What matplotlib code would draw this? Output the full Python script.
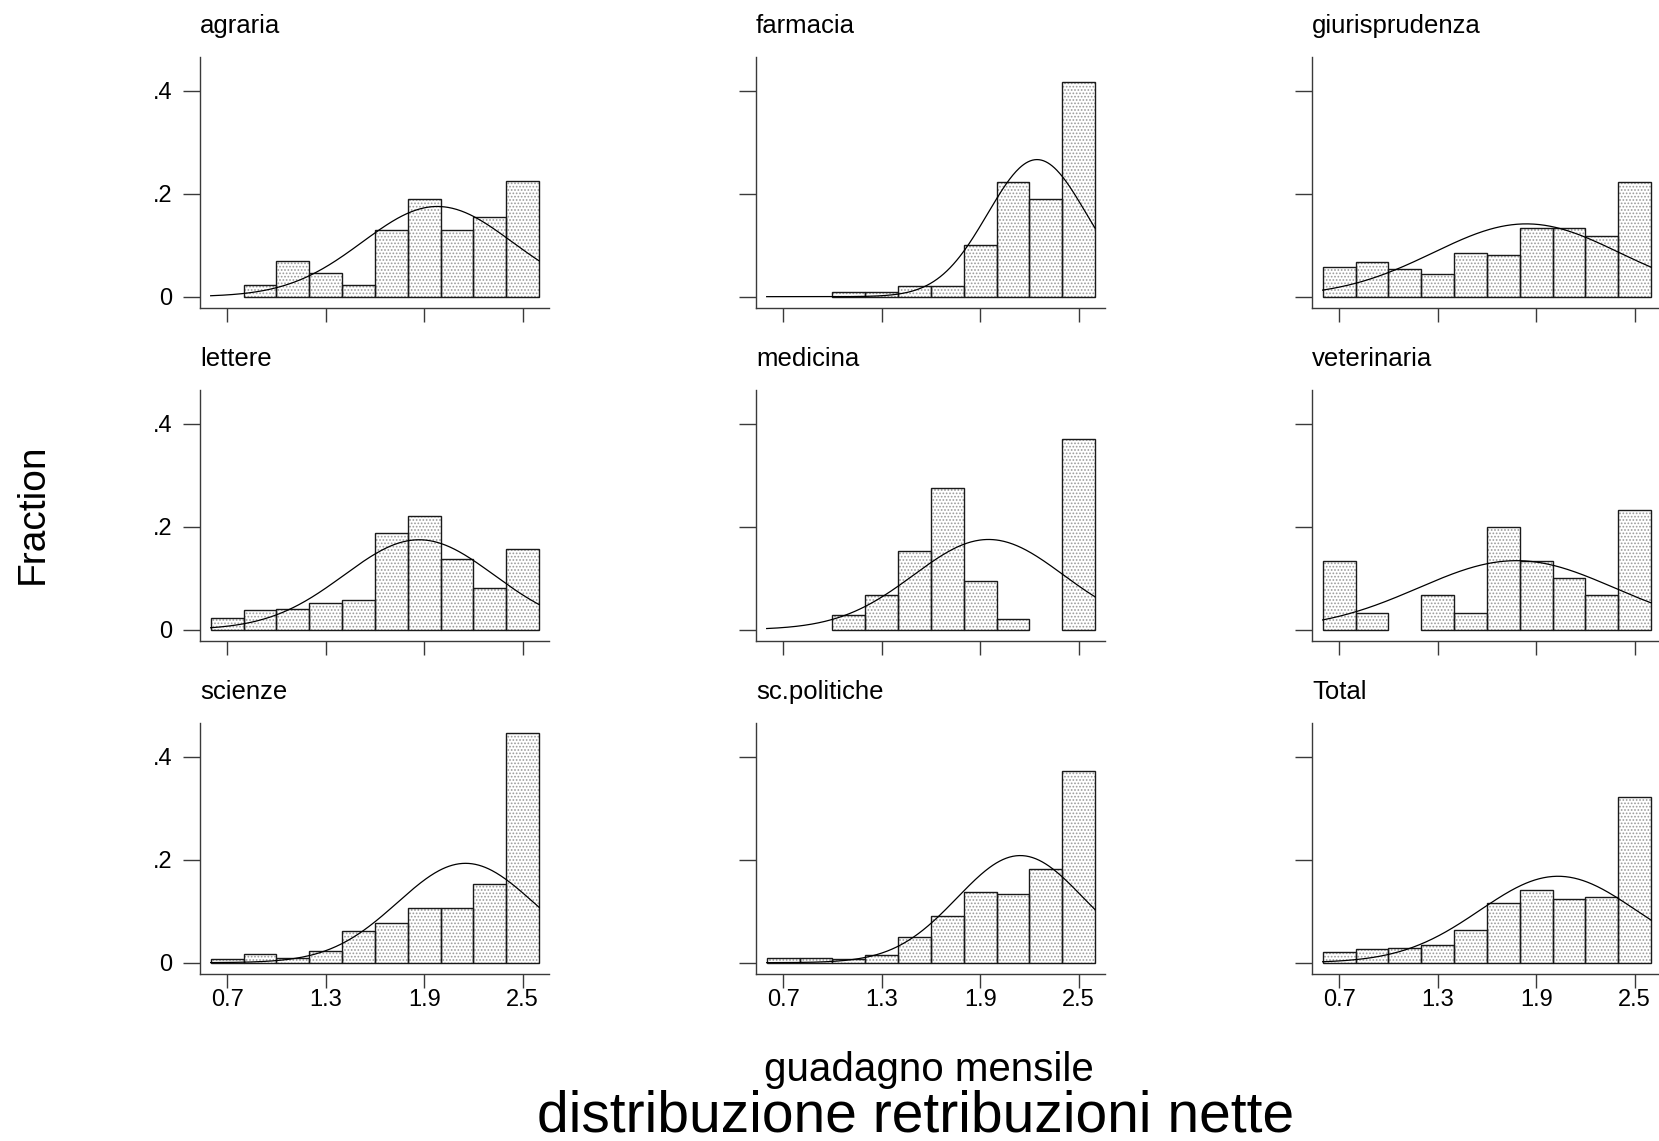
import numpy as np
import matplotlib
matplotlib.use("Agg")
import matplotlib.pyplot as plt

plt.rcParams['font.family'] = ['Liberation Sans', 'DejaVu Sans']
plt.rcParams['hatch.linewidth'] = 0.8

# --- data: fraction of graduates per 0.2-wide bin of net monthly pay ---
bin_edges = [0.6, 0.8, 1.0, 1.2, 1.4, 1.6, 1.8, 2.0, 2.2, 2.4, 2.6]

faculties = ["agraria", "farmacia", "giurisprudenza",
             "lettere", "medicina", "veterinaria",
             "scienze", "sc.politiche", "Total"]

agraria = [0.0, 0.023, 0.069, 0.046, 0.023, 0.130, 0.190, 0.130, 0.154, 0.225]
farmacia = [0.0, 0.0, 0.010, 0.010, 0.021, 0.021, 0.100, 0.223, 0.190, 0.416]
giurisprudenza = [0.057, 0.067, 0.053, 0.043, 0.084, 0.080, 0.134, 0.134, 0.117, 0.223]
lettere = [0.023, 0.038, 0.040, 0.052, 0.058, 0.188, 0.221, 0.138, 0.080, 0.156]
medicina = [0.0, 0.0, 0.028, 0.067, 0.152, 0.275, 0.094, 0.020, 0.0, 0.369]
veterinaria = [0.133, 0.033, 0.0, 0.067, 0.033, 0.200, 0.133, 0.100, 0.067, 0.233]
scienze = [0.007, 0.017, 0.010, 0.023, 0.062, 0.076, 0.106, 0.106, 0.152, 0.446]
sc_politiche = [0.009, 0.009, 0.008, 0.014, 0.050, 0.090, 0.137, 0.133, 0.181, 0.371]
total = [0.021, 0.027, 0.028, 0.034, 0.064, 0.115, 0.141, 0.123, 0.128, 0.321]

fractions = [agraria, farmacia, giurisprudenza, lettere, medicina,
             veterinaria, scienze, sc_politiche, total]

# mean and sd of the normal overlay for each faculty
norm_mean = [1.98, 2.246, 1.84, 1.869, 1.951, 1.78, 2.152, 2.144, 2.033]
norm_sd = [0.456, 0.300, 0.565, 0.4575, 0.456, 0.596, 0.414, 0.384, 0.476]

x_ticks = [0.7, 1.3, 1.9, 2.5]
x_ticklabels = ["0.7", "1.3", "1.9", "2.5"]
y_ticks = [0.0, 0.2, 0.4]
y_ticklabels = ["0", ".2", ".4"]

# --- layout in pixels ---
W, H = 1659, 1141
fig = plt.figure(figsize=(W / 100, H / 100), dpi=100)
fig.patch.set_facecolor('white')

col_left = [200, 756, 1312]
row_top = [57, 390, 723]
ax_w, ax_h = 349, 251
axis_col = '#3a3a3a'

edges = np.array(bin_edges)
widths = np.diff(edges)

for k, name in enumerate(faculties):
    r, c = divmod(k, 3)
    left, top = col_left[c], row_top[r]
    ax = fig.add_axes([left / W, 1 - (top + ax_h) / H, ax_w / W, ax_h / H])

    vals = np.array(fractions[k])
    keep = vals > 0
    # dotted fill, then the dark outlines on top
    ax.bar(edges[:-1][keep], vals[keep], width=widths[keep], align='edge',
           color='white', edgecolor='#9a9a9a', linewidth=0, hatch='.....', zorder=2)
    ax.bar(edges[:-1][keep], vals[keep], width=widths[keep], align='edge',
           fill=False, edgecolor='#1a1a1a', linewidth=1.0, zorder=3)

    xs = np.linspace(edges[0], edges[-1], 300)
    mu, sd = norm_mean[k], norm_sd[k]
    dens = np.exp(-0.5 * ((xs - mu) / sd) ** 2) / (sd * np.sqrt(2 * np.pi))
    ax.plot(xs, dens * widths[0], color='black', linewidth=0.9, zorder=4)

    ax.set_xlim(0.535, 2.660)
    ax.set_ylim(-0.022, 0.465)
    for s in ['top', 'right']:
        ax.spines[s].set_visible(False)
    for s in ['left', 'bottom']:
        ax.spines[s].set_color(axis_col)
        ax.spines[s].set_linewidth(1.0)

    ax.set_xticks(x_ticks)
    ax.set_yticks(y_ticks)
    ax.tick_params(axis='y', length=12, width=1.0, color=axis_col, pad=8, labelsize=17)
    ax.tick_params(axis='x', length=10, width=1.0, color=axis_col, pad=0.5, labelsize=17)
    ax.set_xticklabels(x_ticklabels if r == 2 else [])
    ax.set_yticklabels(y_ticklabels if c == 0 else [])

    fig.text(left / W, 1 - (top - 24) / H, name, ha='left', va='baseline', fontsize=18.5)

fig.text(32.8 / W, 1 - 514 / H, "Fraction", rotation=90, ha='center', va='center', fontsize=28)
fig.text(929 / W, 1 - 1081 / H, "guadagno mensile", ha='center', va='baseline', fontsize=29)
fig.text(916 / W, 1 - 1132 / H, "distribuzione retribuzioni nette", ha='center', va='baseline', fontsize=41)

fig.savefig("out.png", dpi=100, facecolor='white')
